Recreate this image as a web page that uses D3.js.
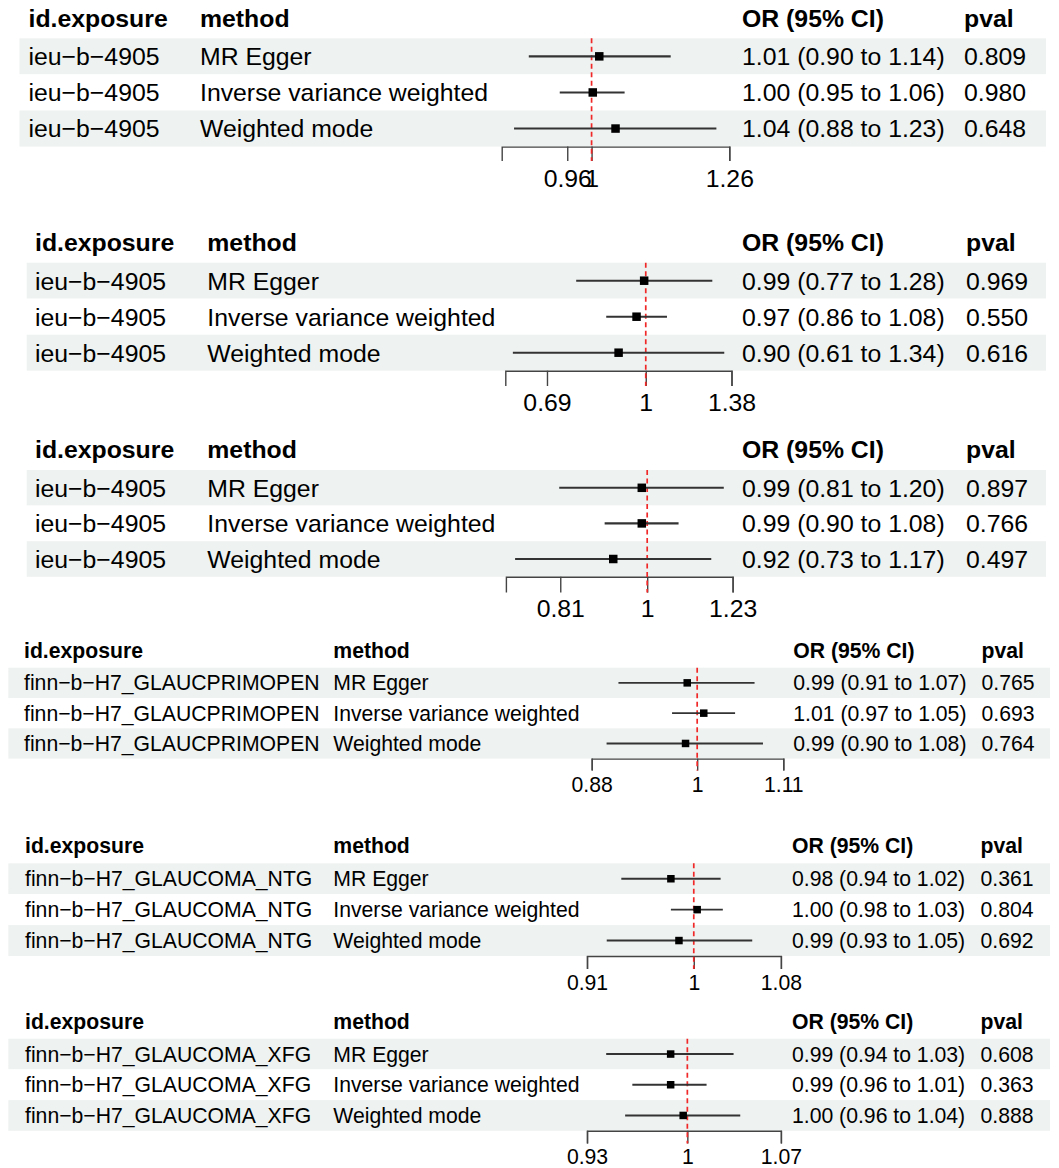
<!DOCTYPE html>
<html>
<head>
<meta charset="utf-8">
<script src="https://cdn.jsdelivr.net/npm/d3@7/dist/d3.min.js"></script>
<style>
  html, body { margin: 0; padding: 0; background: #ffffff; }
  svg { display: block; }
  text { font-family: "Liberation Sans", Arial, Helvetica, sans-serif; fill: #000; }
</style>
</head>
<body>
<svg id="chart" width="1059" height="1168"></svg>
<script>
// ---------------- DATA ----------------
const headers = ["id.exposure", "method", "OR (95% CI)", "pval"];
const methods = ["MR Egger", "Inverse variance weighted", "Weighted mode"];
const exposures = [
  "ieu−b−4905",
  "ieu−b−4905",
  "ieu−b−4905",
  "finn−b−H7_GLAUCPRIMOPEN",
  "finn−b−H7_GLAUCOMA_NTG",
  "finn−b−H7_GLAUCOMA_XFG"
];
// odds ratio estimates per panel (rows: MR Egger, IVW, Weighted mode)
const orEst = [
  [1.013, 1.002, 1.041],
  [0.994, 0.966, 0.903],
  [0.987, 0.987, 0.921],
  [0.988, 1.008, 0.986],
  [0.980, 1.003, 0.987],
  [0.988, 0.988, 0.997]
];
const orLow = [
  [0.900, 0.948, 0.878],
  [0.770, 0.862, 0.607],
  [0.808, 0.902, 0.726],
  [0.909, 0.970, 0.896],
  [0.938, 0.980, 0.926],
  [0.943, 0.961, 0.956]
];
const orHigh = [
  [1.142, 1.057, 1.233],
  [1.284, 1.083, 1.343],
  [1.204, 1.079, 1.168],
  [1.072, 1.047, 1.083],
  [1.024, 1.026, 1.053],
  [1.034, 1.014, 1.039]
];
const pvals = [
  [0.809, 0.980, 0.648],
  [0.969, 0.550, 0.616],
  [0.897, 0.766, 0.497],
  [0.765, 0.693, 0.764],
  [0.361, 0.804, 0.692],
  [0.608, 0.363, 0.888]
];
const xlims = [
  [0.86, 1.26],
  [0.59, 1.38],
  [0.71, 1.23],
  [0.88, 1.11],
  [0.91, 1.08],
  [0.93, 1.07]
];
const tickVals = [
  [0.96, 1, 1.26],
  [0.69, 1, 1.38],
  [0.81, 1, 1.23],
  [0.88, 1, 1.11],
  [0.91, 1, 1.08],
  [0.93, 1, 1.07]
];
const refValue = 1;

// ---------------- LAYOUT (positions / styles) ----------------
const big = { fs: 24.8, tfs: 24.8, lab: 40.2, box: 8.5, lw: 2.1 };
const small = { fs: 21.2, tfs: 21.2, lab: 33.5, box: 7.5, lw: 1.9 };
const layout = [
  Object.assign({ top: 38.3,  rowH: 36.1, bx0: 19.5, bx1: 1046, c1: 28.5, c2: 200,   px0: 501.7, px1: 729.3, cOR: 742,   cP: 964,   tick: 14.5 }, big),
  Object.assign({ top: 262.7, rowH: 36.0, bx0: 26.7, bx1: 1046, c1: 35,   c2: 207.3, px0: 505.3, px1: 731.5, cOR: 742,   cP: 966,   tick: 15.3 }, big),
  Object.assign({ top: 470.0, rowH: 35.6, bx0: 26.7, bx1: 1046, c1: 35,   c2: 207.3, px0: 505.9, px1: 732.6, cOR: 742,   cP: 966,   tick: 15.8 }, big),
  Object.assign({ top: 667.7, rowH: 30.3, bx0: 8.3,  bx1: 1050, c1: 24,   c2: 333.3, px0: 591.7, px1: 783.3, cOR: 793.3, cP: 981.5, tick: 12 }, small),
  Object.assign({ top: 863.3, rowH: 30.9, bx0: 8.3,  bx1: 1050, c1: 25,   c2: 333.3, px0: 587,   px1: 780.9, cOR: 792,   cP: 980.5, tick: 13 }, small),
  Object.assign({ top: 1038.7,rowH: 30.7, bx0: 8.3,  bx1: 1050, c1: 25,   c2: 333.3, px0: 587,   px1: 780.9, cOR: 792,   cP: 980.5, tick: 12.7 }, small)
];

const bandFill = "#eef2f0";
const ciColor = "#333333";
const refColor = "#f02828";
const axisColor = "#444444";

const svg = d3.select("#chart");
const f2 = d3.format(".2f");
const f3 = d3.format(".3f");

layout.forEach((L, p) => {
  const g = svg.append("g").attr("class", "panel panel-" + p);
  const x = d3.scaleLog().domain(xlims[p]).range([L.px0, L.px1]);
  const rows = d3.range(methods.length);
  const rowY = i => L.top + i * L.rowH;
  const rowC = i => rowY(i) + L.rowH / 2;
  const baseOff = 0.355 * L.fs;

  // row bands
  g.selectAll("rect.band").data(rows).join("rect")
    .attr("class", "band")
    .attr("x", L.bx0).attr("width", L.bx1 - L.bx0)
    .attr("y", i => rowY(i)).attr("height", L.rowH)
    .attr("fill", i => i % 2 === 0 ? bandFill : "#ffffff");

  // header
  const hx = [L.c1, L.c2, L.cOR, L.cP];
  g.selectAll("text.hdr").data(headers).join("text")
    .attr("class", "hdr")
    .attr("x", (d, i) => hx[i])
    .attr("y", L.top - 0.47 * L.fs)
    .attr("font-size", L.fs)
    .attr("font-weight", "bold")
    .text(d => d);

  // body text columns
  const rowsData = rows.map(i => ({
    i,
    exp: exposures[p],
    method: methods[i],
    ci: f2(orEst[p][i]) + " (" + f2(orLow[p][i]) + " to " + f2(orHigh[p][i]) + ")",
    pv: f3(pvals[p][i])
  }));
  const cols = [["exp", L.c1], ["method", L.c2], ["ci", L.cOR], ["pv", L.cP]];
  cols.forEach(([key, cx]) => {
    g.selectAll("text.c-" + key).data(rowsData).join("text")
      .attr("class", "c-" + key)
      .attr("x", cx)
      .attr("y", d => rowC(d.i) + baseOff)
      .attr("font-size", L.fs)
      .text(d => d[key]);
  });

  // axis
  const axisY = rowY(methods.length);
  const axis = d3.axisBottom(x)
    .tickValues(tickVals[p])
    .tickFormat(d => String(d))
    .tickSizeOuter(0)
    .tickSize(L.tick);
  const ag = g.append("g").attr("transform", `translate(0,${axisY})`).call(axis);
  ag.select(".domain").attr("stroke", axisColor).attr("stroke-width", 1.4);
  ag.selectAll(".tick line").attr("stroke", axisColor).attr("stroke-width", 1.4);
  ag.selectAll(".tick text")
    .attr("y", L.lab).attr("dy", 0)
    .attr("font-size", L.tfs)
    .attr("font-family", "'Liberation Sans', Arial, sans-serif")
    .attr("fill", "#000");

  // reference line
  g.append("line")
    .attr("x1", x(refValue)).attr("x2", x(refValue))
    .attr("y1", L.top).attr("y2", axisY + L.tick)
    .attr("stroke", refColor).attr("stroke-width", 1.7)
    .attr("stroke-dasharray", "5,3.5");

  // CI lines
  g.selectAll("line.ci").data(rows).join("line")
    .attr("class", "ci")
    .attr("x1", i => x(orLow[p][i])).attr("x2", i => x(orHigh[p][i]))
    .attr("y1", i => rowC(i)).attr("y2", i => rowC(i))
    .attr("stroke", ciColor).attr("stroke-width", L.lw);

  // point estimates
  g.selectAll("rect.pt").data(rows).join("rect")
    .attr("class", "pt")
    .attr("x", i => x(orEst[p][i]) - L.box / 2)
    .attr("y", i => rowC(i) - L.box / 2)
    .attr("width", L.box).attr("height", L.box)
    .attr("fill", "#000");
});
</script>
</body>
</html>
